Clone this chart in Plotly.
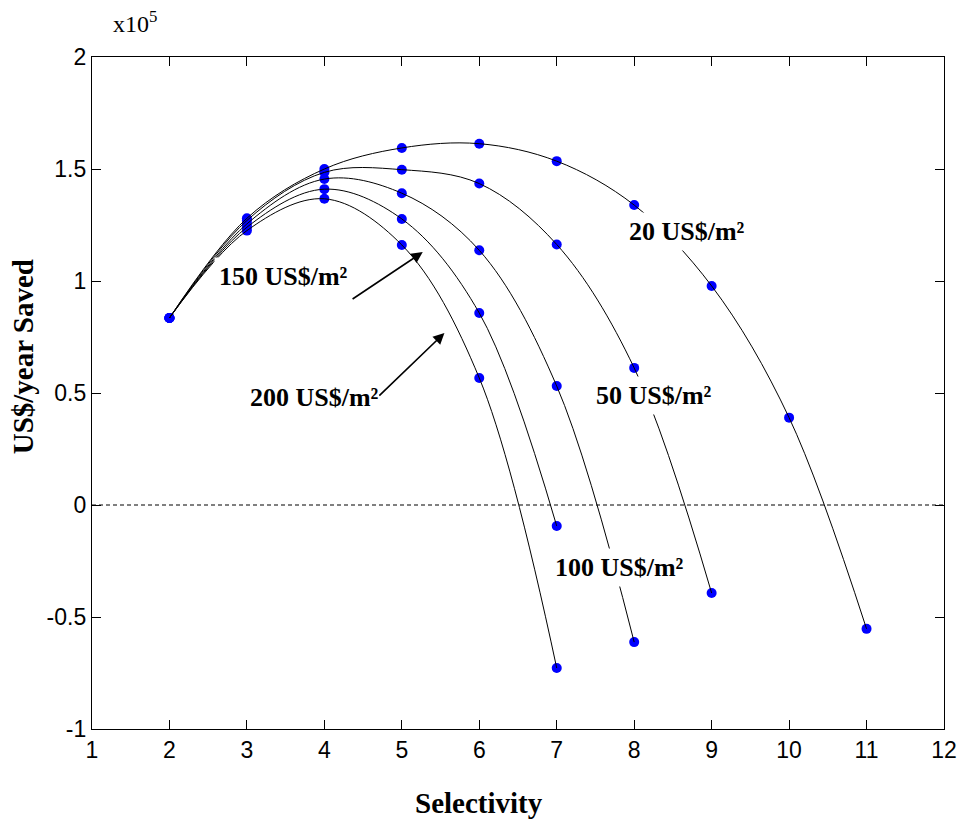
import plotly.graph_objects as go

# Selectivity values for each membrane-cost series
sel_20 = [2, 3, 4, 5, 6, 7, 8, 9, 10, 11]
val_20 = [0.835, 1.28, 1.50, 1.594, 1.613, 1.535, 1.339, 0.978, 0.390, -0.553]

sel_50 = [2, 3, 4, 5, 6, 7, 8, 9]
val_50 = [0.835, 1.27, 1.485, 1.497, 1.435, 1.163, 0.612, -0.393]

sel_100 = [2, 3, 4, 5, 6, 7, 8]
val_100 = [0.835, 1.255, 1.455, 1.392, 1.137, 0.531, -0.612]

sel_150 = [2, 3, 4, 5, 6, 7]
val_150 = [0.835, 1.24, 1.41, 1.277, 0.857, -0.094]

sel_200 = [2, 3, 4, 5, 6, 7]
val_200 = [0.835, 1.225, 1.367, 1.161, 0.567, -0.728]

x_ticks = [1, 2, 3, 4, 5, 6, 7, 8, 9, 10, 11, 12]
y_ticks = [-1, -0.5, 0, 0.5, 1, 1.5, 2]
y_tick_text = ["-1", "-0.5", "0", "0.5", "1", "1.5", "2"]

series = [
    (sel_20, val_20),
    (sel_50, val_50),
    (sel_100, val_100),
    (sel_150, val_150),
    (sel_200, val_200),
]

fig = go.Figure()

# zero reference line
fig.add_trace(go.Scatter(x=[1, 12], y=[0, 0], mode="lines",
                         line=dict(color="black", width=1, dash="4px,3px"),
                         hoverinfo="skip", showlegend=False))

for xs, ys in series:
    fig.add_trace(go.Scatter(x=xs, y=ys, mode="markers",
                             marker=dict(color="#0000ff", size=10),
                             showlegend=False))
for xs, ys in series:
    fig.add_trace(go.Scatter(x=xs, y=ys, mode="lines",
                             line=dict(color="black", width=1, shape="spline", smoothing=1.0),
                             showlegend=False))

lab_font = dict(family="Liberation Serif, Times New Roman, serif", size=26, color="black")

anns = []
def label(text, x, y):
    anns.append(dict(x=x, y=y, xref="x", yref="y", text="<b>%s</b>" % text,
                     showarrow=False, font=lab_font, bgcolor="white", borderpad=4,
                     xanchor="center", yanchor="middle"))

label("20 US$/m²", 8.68, 1.219)
label("50 US$/m²", 8.26, 0.491)
label("100 US$/m²", 7.81, -0.277)
label("150 US$/m²", 3.47, 1.018)
label("200 US$/m²", 3.87, 0.482)

# arrows
for (hx, hy, tx, ty) in [(5.27, 1.129, 4.345, 0.915), (5.55, 0.768, 4.69, 0.482)]:
    anns.append(dict(x=hx, y=hy, ax=tx, ay=ty, xref="x", yref="y", axref="x", ayref="y",
                     text="", showarrow=True, arrowhead=2, arrowsize=1.4, arrowwidth=1.6,
                     arrowcolor="black"))

title_font = dict(family="Liberation Serif, Times New Roman, serif", size=29, color="black")
anns.append(dict(x=0.454, y=-0.110, xref="paper", yref="paper", text="<b>Selectivity</b>",
                 showarrow=False, font=title_font, xanchor="center", yanchor="middle"))
anns.append(dict(x=-0.0806, y=0.5536, xref="paper", yref="paper", text="<b>US$/year Saved</b>",
                 showarrow=False, font=title_font, textangle=-90, xanchor="center", yanchor="middle"))
anns.append(dict(x=0.050, y=1.052, xref="paper", yref="paper", text="x10<sup>5</sup>",
                 showarrow=False, font=dict(family="Liberation Serif, Times New Roman, serif", size=24, color="black"),
                 xanchor="center", yanchor="middle"))

tick_font = dict(family="Liberation Sans, Arial, sans-serif", size=23, color="black")

fig.update_layout(
    width=969, height=823,
    margin=dict(l=92, r=21, t=57, b=94),
    paper_bgcolor="white", plot_bgcolor="white",
    annotations=anns,
    xaxis=dict(range=[1, 12], tickvals=x_ticks, ticks="inside", ticklen=9, tickcolor="black",
               showline=True, linecolor="black", linewidth=1.3, mirror="ticks",
               showgrid=False, zeroline=False, tickfont=tick_font),
    yaxis=dict(range=[-1, 2], tickvals=y_ticks, ticktext=y_tick_text, ticks="inside", ticklen=9,
               tickcolor="black", showline=True, linecolor="black", linewidth=1.3, mirror="ticks",
               showgrid=False, zeroline=False, tickfont=tick_font),
)

fig.write_html("out.html")
